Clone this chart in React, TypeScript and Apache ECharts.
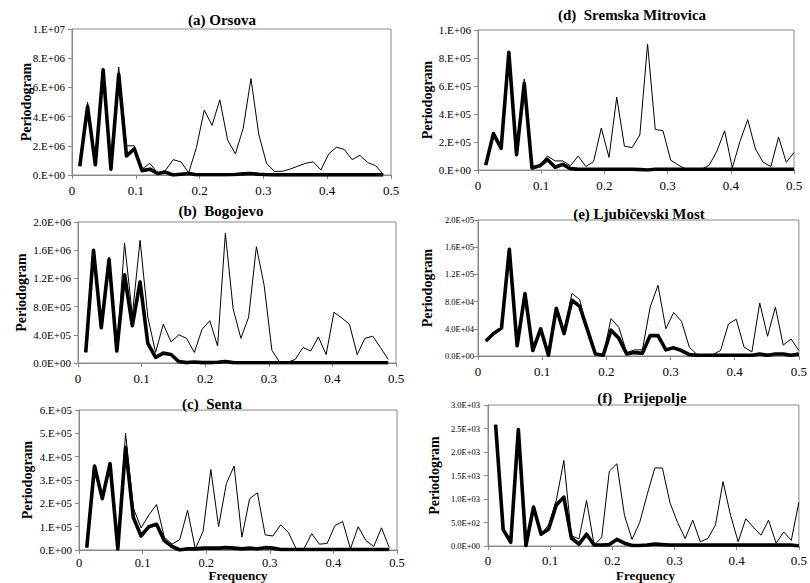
import React, { useEffect, useRef } from "react";
import * as echarts from "echarts";

// Fourier frequencies (cycles per month)
const freq = [
  0.0122, 0.0244, 0.0366, 0.0488, 0.061, 0.0732, 0.0854, 0.0976, 0.1098, 0.122,
  0.1341, 0.1463, 0.1585, 0.1707, 0.1829, 0.1951, 0.2073, 0.2195, 0.2317, 0.2439,
  0.2561, 0.2683, 0.2805, 0.2927, 0.3049, 0.3171, 0.3293, 0.3415, 0.3537, 0.3659,
  0.378, 0.3902, 0.4024, 0.4146, 0.4268, 0.439, 0.4512, 0.4634, 0.4756, 0.4878, 0.5,
];

const xTicks = ["0", "0.1", "0.2", "0.3", "0.4", "0.5"];

// (a) Orsova, units of 1e6
const orsovaUnit = 1e6;
const orsovaThin = [0.6, 5.0, 0.7, 7.3, 0.4, 7.4, 2.0, 2.0, 0.4, 0.8, 0.15, 0.3, 1.05, 0.9, 0.15, 1.9, 4.45, 3.4, 5.15, 2.4, 1.45, 3.2, 6.6, 2.8, 0.8, 0.25, 0.25, 0.4, 0.6, 0.8, 0.9, 0.35, 1.45, 1.9, 1.75, 1.05, 1.35, 0.85, 0.65, 0.05];
const orsovaThick = [0.6, 4.7, 0.7, 7.2, 0.4, 6.9, 1.3, 1.8, 0.3, 0.4, 0.1, 0.2, 0.0, 0.05, 0.1, 0.02, 0.02, 0.02, 0.02, 0.02, 0.03, 0.08, 0.1, 0.05, 0.02, 0.01, 0.01, 0.01, 0.01, 0.01, 0.01, 0.01, 0.01, 0.01, 0.01, 0.01, 0.01, 0.01, 0.01, 0.01];
const orsovaTicks = ["0.E+00", "2.E+06", "4.E+06", "6.E+06", "8.E+06", "1.E+07"];

// (b) Bogojevo, units of 1e5
const bogojevoUnit = 1e5;
const bogojevoThin = [1.5, 16, 5.0, 15, 1.7, 17, 6.8, 17.4, 6.5, 1.5, 5.5, 3.0, 4.0, 3.5, 1.5, 4.8, 6.0, 2.4, 18.4, 7.7, 3.5, 6.5, 16.5, 11.0, 1.8, 0.1, 0.1, 0.5, 2.2, 1.7, 3.7, 1.2, 7.2, 6.4, 5.5, 1.2, 3.5, 3.8, 2.2, 0.5];
const bogojevoThick = [1.5, 16, 5.0, 14.7, 1.7, 12.5, 5.3, 11.5, 2.8, 0.8, 1.4, 1.2, 0.2, 0.05, 0.15, 0.05, 0.05, 0.1, 0.2, 0.05, 0.03, 0.03, 0.03, 0.03, 0.03, 0.03, 0.03, 0.03, 0.03, 0.03, 0.03, 0.03, 0.03, 0.03, 0.03, 0.03, 0.03, 0.03, 0.03, 0.03];
const bogojevoTicks = ["0.0E+00", "4.0E+05", "8.0E+05", "1.2E+06", "1.6E+06", "2.0E+06"];

// (c) Senta, units of 1e5
const sentaUnit = 1e5;
const sentaThin = [0.1, 3.65, 2.15, 3.75, 0.05, 5.0, 1.8, 0.95, 1.5, 1.95, 0.55, 0.25, 0.45, 1.7, 0.05, 0.8, 3.45, 1.0, 2.85, 3.6, 0.55, 2.2, 2.45, 0.65, 0.6, 1.08, 0.75, 0.05, 0.05, 0.7, 0.25, 0.28, 1.05, 1.22, 0.05, 1.0, 0.4, 0.15, 0.95, 0.1];
const sentaThick = [0.1, 3.6, 2.2, 3.7, 0.05, 4.4, 1.4, 0.6, 1.0, 1.1, 0.4, 0.15, 0.0, 0.05, 0.05, 0.08, 0.08, 0.08, 0.1, 0.08, 0.05, 0.08, 0.05, 0.1, 0.08, 0.02, 0.02, 0.02, 0.02, 0.02, 0.02, 0.02, 0.02, 0.02, 0.02, 0.02, 0.02, 0.02, 0.02, 0.02];
const sentaTicks = ["0.E+00", "1.E+05", "2.E+05", "3.E+05", "4.E+05", "5.E+05", "6.E+05"];

// (d) Sremska Mitrovica, units of 1e5
const sremskaUnit = 1e5;
const sremskaThin = [0.35, 2.6, 1.55, 8.4, 1.1, 6.5, 0.15, 0.35, 1.0, 0.65, 0.65, 0.3, 1.0, 0.25, 0.6, 3.0, 0.9, 5.2, 1.7, 1.6, 2.5, 9.0, 2.9, 2.8, 0.7, 0.35, 0.05, 0.05, 0.05, 0.35, 1.35, 2.8, 0.15, 2.05, 3.6, 1.5, 0.55, 0.25, 2.35, 0.55, 1.25];
const sremskaThick = [0.35, 2.6, 1.55, 8.4, 1.1, 6.2, 0.15, 0.3, 0.75, 0.2, 0.4, 0.1, 0.05, 0.05, 0.05, 0.05, 0.05, 0.05, 0.05, 0.05, 0.03, 0.0, 0.05, 0.05, 0.05, 0.05, 0.05, 0.05, 0.05, 0.05, 0.05, 0.05, 0.05, 0.05, 0.05, 0.05, 0.05, 0.05, 0.05, 0.05, 0.05];
const sremskaTicks = ["0.E+00", "2.E+05", "4.E+05", "6.E+05", "8.E+05", "1.E+06"];

// (e) Ljubičevski Most, units of 1e4
const ljubUnit = 1e4;
const ljubThin = [2.2, 3.3, 4.1, 15.7, 1.5, 9.2, 0.8, 4.0, 0.1, 7.0, 3.3, 9.2, 8.3, 3.5, 0.3, 0.1, 5.5, 4.2, 0.5, 0.9, 0.9, 7.2, 10.4, 4.0, 6.4, 5.1, 1.3, 0.2, 0.2, 0.2, 0.8, 4.7, 5.4, 1.3, 0.6, 7.8, 2.9, 7.2, 1.6, 2.5, 0.8];
const ljubThick = [2.2, 3.3, 4.1, 15.7, 1.5, 9.2, 0.8, 4.0, 0.1, 7.0, 3.3, 8.2, 7.3, 3.8, 0.3, 0.1, 3.8, 2.6, 0.3, 0.5, 0.4, 3.0, 3.0, 0.9, 1.2, 0.8, 0.2, 0.1, 0.1, 0.1, 0.1, 0.1, 0.1, 0.1, 0.1, 0.3, 0.1, 0.3, 0.3, 0.1, 0.3];
const ljubTicks = ["0.0E+00", "4.0E+04", "8.0E+04", "1.2E+05", "1.6E+05", "2.0E+05"];

// (f) Prijepolje, units of 1e2
const prijeUnit = 1e2;
const prijeThin = [25.8, 3.5, 0.8, 24.5, 0.1, 8.3, 2.5, 4.5, 9.7, 18.2, 2.2, 1.5, 9.7, 0.2, 1.8, 15.9, 17.5, 6.5, 1.4, 5.0, 11.0, 16.6, 16.6, 9.2, 5.0, 1.6, 5.5, 0.9, 1.6, 4.5, 13.7, 6.5, 0.9, 5.8, 4.0, 2.3, 5.5, 0.6, 3.0, 1.2, 9.3];
const prijeThick = [25.8, 3.5, 0.8, 24.8, 0.1, 8.3, 2.5, 3.6, 8.7, 10.4, 1.7, 0.4, 2.5, 0.2, 0.2, 0.3, 1.4, 0.6, 0.1, 0.1, 0.2, 0.4, 0.3, 0.2, 0.2, 0.2, 0.2, 0.2, 0.2, 0.2, 0.2, 0.2, 0.2, 0.2, 0.2, 0.2, 0.2, 0.2, 0.2, 0.2, 0.0];
const prijeTicks = ["0.0E+00", "5.0E+02", "1.0E+03", "1.5E+03", "2.0E+03", "2.5E+03", "3.0E+03"];

const SERIF = "'Liberation Serif', 'Times New Roman', 'DejaVu Serif', serif";

const panels = [
  { title: "(a) Orsova", thin: orsovaThin, thick: orsovaThick, unit: orsovaUnit, ticks: orsovaTicks, interval: 2e6,
    grid: { left: 72, top: 29, width: 319, height: 146 }, titleXY: [222, 20], nameX: 26, yFont: 11, yMargin: 7, xFont: 13, xMargin: 9, freqName: false },
  { title: "(b)  Bogojevo", thin: bogojevoThin, thick: bogojevoThick, unit: bogojevoUnit, ticks: bogojevoTicks, interval: 4e5,
    grid: { left: 78, top: 222, width: 318, height: 141 }, titleXY: [221, 211], nameX: 21, yFont: 11, yMargin: 7, xFont: 13, xMargin: 9, freqName: false },
  { title: "(c)  Senta", thin: sentaThin, thick: sentaThick, unit: sentaUnit, ticks: sentaTicks, interval: 1e5,
    grid: { left: 79, top: 410, width: 318, height: 140 }, titleXY: [212, 404], nameX: 27, yFont: 11, yMargin: 7, xFont: 12.5, xMargin: 6, freqName: true },
  { title: "(d)  Sremska Mitrovica", thin: sremskaThin, thick: sremskaThick, unit: sremskaUnit, ticks: sremskaTicks, interval: 2e5,
    grid: { left: 478, top: 30, width: 316, height: 140 }, titleXY: [632, 15], nameX: 427, yFont: 11, yMargin: 7, xFont: 13, xMargin: 9, freqName: false },
  { title: "(e) Ljubičevski Most", thin: ljubThin, thick: ljubThick, unit: ljubUnit, ticks: ljubTicks, interval: 4e4,
    grid: { left: 478, top: 220, width: 322, height: 136 }, titleXY: [639, 214], nameX: 427, yFont: 8.5, yMargin: 4, xFont: 13, xMargin: 9, freqName: false },
  { title: "(f)   Prijepolje", thin: prijeThin, thick: prijeThick, unit: prijeUnit, ticks: prijeTicks, interval: 500,
    grid: { left: 488, top: 405, width: 315, height: 141 }, titleXY: [642, 398], nameX: 434, yFont: 8.5, yMargin: 8, xFont: 13, xMargin: 8, freqName: true },
];

const AXIS_GRAY = "#888888";

export default function App() {
  const ref = useRef<HTMLDivElement>(null);
  useEffect(() => {
    if (!ref.current) return;
    const chart = echarts.init(ref.current, null, { renderer: "svg" });
    const grid: any[] = [];
    const xAxis: any[] = [];
    const yAxis: any[] = [];
    const series: any[] = [];
    const graphic: any[] = [];
    panels.forEach((p, i) => {
      grid.push({ ...p.grid, show: true, borderColor: AXIS_GRAY, borderWidth: 1, backgroundColor: "transparent" });
      xAxis.push({
        type: "value", gridIndex: i, min: 0, max: 0.5, interval: 0.1,
        axisLine: { show: true, onZero: false, lineStyle: { color: AXIS_GRAY, width: 1 } },
        axisTick: { show: true, inside: false, length: 4, lineStyle: { color: AXIS_GRAY } },
        splitLine: { show: false },
        axisLabel: { fontFamily: SERIF, fontSize: p.xFont, color: "#000", margin: p.xMargin,
          formatter: (v: number) => xTicks[Math.round(v / 0.1)] ?? "" },
      });
      const n = p.ticks.length - 1;
      yAxis.push({
        type: "value", gridIndex: i, min: 0, max: p.interval * n, interval: p.interval,
        axisLine: { show: true, lineStyle: { color: AXIS_GRAY, width: 1 } },
        axisTick: { show: true, inside: false, length: 4, lineStyle: { color: AXIS_GRAY } },
        splitLine: { show: false },
        axisLabel: { fontFamily: SERIF, fontSize: p.yFont, color: "#000", margin: p.yMargin,
          formatter: (v: number) => p.ticks[Math.round(v / p.interval)] ?? "" },
      });
      series.push({
        type: "line", xAxisIndex: i, yAxisIndex: i, symbol: "none", silent: true,
        lineStyle: { color: "#000", width: 1 },
        data: p.thin.map((v, k) => [freq[k], v * p.unit]),
      });
      series.push({
        type: "line", xAxisIndex: i, yAxisIndex: i, symbol: "none", silent: true,
        lineStyle: { color: "#000", width: 3.6, join: "round" },
        data: p.thick.map((v, k) => [freq[k], v * p.unit]),
      });
      graphic.push({
        type: "text", x: p.titleXY[0], y: p.titleXY[1], silent: true,
        style: { text: p.title, fontFamily: SERIF, fontWeight: "bold", fontSize: 15, fill: "#000", align: "center", verticalAlign: "middle" },
      });
      graphic.push({
        type: "text", x: p.nameX, y: p.grid.top + p.grid.height / 2, rotation: Math.PI / 2, silent: true,
        style: { text: "Periodogram", fontFamily: SERIF, fontWeight: "bold", fontSize: 14, fill: "#000", align: "center", verticalAlign: "middle" },
      });
      if (p.freqName) {
        graphic.push({
          type: "text", x: p.grid.left + p.grid.width / 2, y: 575, silent: true,
          style: { text: "Frequency", fontFamily: SERIF, fontWeight: "bold", fontSize: 13, fill: "#000", align: "center", verticalAlign: "middle" },
        });
      }
    });
    chart.setOption({
      animation: false,
      backgroundColor: "#fff",
      grid, xAxis, yAxis, series, graphic,
    });
    return () => chart.dispose();
  }, []);
  return (
    <div
      ref={ref}
      style={{ position: "fixed", left: 0, top: 0, width: 810, height: 583, background: "#fff" }}
    />
  );
}
